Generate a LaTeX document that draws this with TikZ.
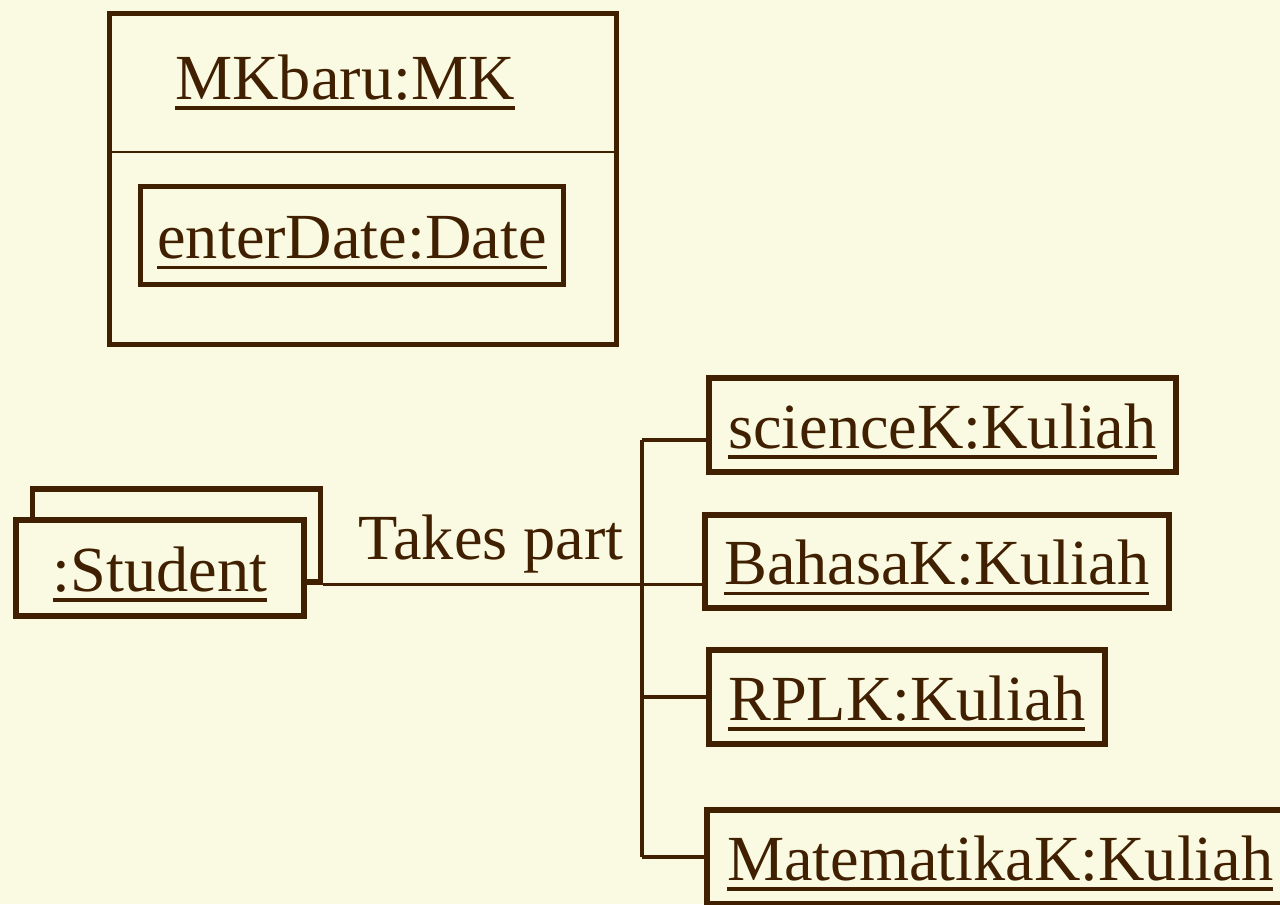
\documentclass[tikz,border=0pt]{standalone}
\usepackage{fontspec}
\setmainfont{Liberation Serif}
\usetikzlibrary{positioning}
\definecolor{umlbrown}{RGB}{64,32,0}
\definecolor{umlpaper}{RGB}{250,250,227}
\newcommand{\objname}[1]{\vtop{\hbox{#1}\kern3.5pt\hrule height 2pt}}
\tikzset{
    node distance=2cm, % not much relative placement here, boxes sit at pixel coordinates
    }
\begin{document}
\begin{tikzpicture}[x=0.02cm, y=-0.02cm,
objbox/.style={rectangle, draw=umlbrown, line width=3.2pt, fill=umlpaper, text=umlbrown, inner sep=0pt, text height=1.1cm, text depth=0.18cm, minimum height=1.88cm, font=\fontsize{36.6}{40}\selectfont},
lbltext/.style={text=umlbrown, inner sep=0pt, font=\fontsize{36.6}{40}\selectfont},
link/.style={draw=umlbrown, line width=1.8pt},
divider/.style={draw=umlbrown, line width=1.2pt},
]
\useasboundingbox (0,0) rectangle (1280,904);
\fill[umlpaper] (0,0) rectangle (1280,904);

% object with attribute
\node[objbox, minimum width=10.14cm, minimum height=6.62cm] (mk) at (363,179) {};
\draw[divider] (mk.west |- 0,152) -- (mk.east |- 0,152);
\node[lbltext, anchor=base] (mktitle) at (345,99) {\objname{MKbaru:MK}};
\node[objbox, minimum width=8.46cm, minimum height=1.96cm] (date) at (352,235.5) {\objname{enterDate:Date}};

% multi object
\node[objbox, minimum width=5.76cm, minimum height=1.86cm] (stuback) at (176.5,535.5) {};
\node[objbox, minimum width=5.76cm, minimum height=1.92cm] (student) at (160,568) {\objname{:Student}};

% links
\node[objbox, anchor=west, minimum width=9.34cm] (sci) at (706,425) {\objname{scienceK:Kuliah}};
\node[objbox, anchor=west, minimum width=9.28cm, minimum height=1.86cm] (bah) at (702,561.5) {\objname{BahasaK:Kuliah}};
\node[objbox, anchor=west, minimum width=7.92cm] (rpl) at (706,697) {\objname{RPLK:Kuliah}};
\node[objbox, anchor=west, minimum width=11.74cm] (mat) at (704,857) {\objname{MatematikaK:Kuliah}};

\node[lbltext, anchor=base] (takes) at (491,559) {Takes part};

\coordinate (jtop) at (642,440);
\coordinate (jbot) at (642,857);
\draw[link] (stuback.south east) -- (stuback.south east -| bah.west);
\draw[link] (jtop) -- (jbot);
\draw[link] (jtop) -- (jtop -| sci.west);
\draw[link] (rpl.west -| jtop) -- (rpl.west);
\draw[link] (jbot) -- (mat.west);

\end{tikzpicture}
\end{document}
